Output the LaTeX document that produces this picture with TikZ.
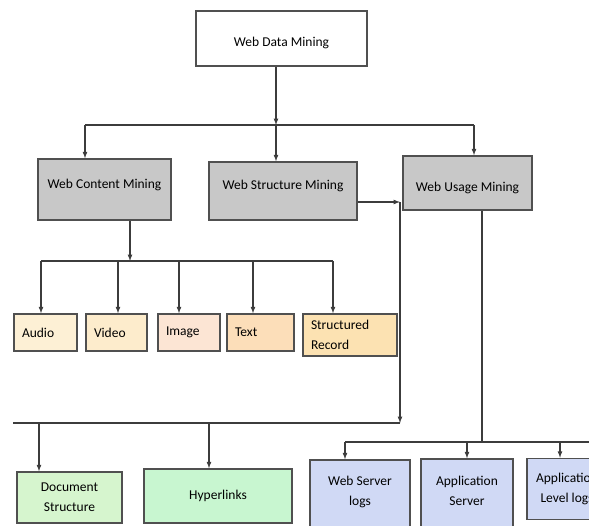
\documentclass[tikz,border=0pt]{standalone}
\usepackage{fontspec}
\setmainfont{Carlito}
\usetikzlibrary{arrows}

\definecolor{edgegray}{RGB}{80,80,80}
\definecolor{linegray}{RGB}{60,60,60}
\definecolor{boxgray}{RGB}{200,200,200}
\definecolor{cream}{RGB}{253,240,213}
\definecolor{creamtwo}{RGB}{253,236,204}
\definecolor{peach}{RGB}{252,229,212}
\definecolor{orangeone}{RGB}{252,222,185}
\definecolor{orangetwo}{RGB}{252,226,178}
\definecolor{greenone}{RGB}{214,245,206}
\definecolor{greentwo}{RGB}{200,246,208}
\definecolor{bluebox}{RGB}{208,217,245}

\tikzset{
 box/.style={draw=edgegray, line width=1.5pt, inner sep=0pt,
   font=\fontsize{13.5}{20}\selectfont},
 topbox/.style={box, fill=white},
 minebox/.style={box, fill=boxgray},
 leafbox/.style={box, align=left, inner xsep=8pt},
 lowbox/.style={box, align=center},
 link/.style={draw=linegray, line width=1.2pt, -latex},
 bar/.style={draw=linegray, line width=1.2pt}
}

\begin{document}
\begin{tikzpicture}[x=1pt,y=-1pt]
 \useasboundingbox (0,0) rectangle (589,525);
 \clip (0,0) rectangle (589,525);
 % main boxes
 \node[topbox, minimum width=171pt, minimum height=55pt, text height=18pt] (wdm) at (281.5,38.5) {Web Data Mining};
 \node[minebox, minimum width=133pt, minimum height=61pt, text depth=12pt] (wcm) at (104.5,189.5) {Web Content Mining};
 \node[minebox, minimum width=148pt, minimum height=58pt, text depth=12pt] (wsm) at (283,191) {Web Structure Mining};
 \node[minebox, minimum width=129pt, minimum height=54pt, text height=20pt] (wum) at (467.5,183) {Web Usage Mining};
 % content leaves
 \node[leafbox, fill=cream, text width=47pt, minimum height=37pt] (audio) at (45.5,332.5) {Audio};
 \node[leafbox, fill=creamtwo, text width=45pt, minimum height=37pt] (video) at (116.5,332.5) {Video};
 \node[leafbox, fill=peach, text width=46pt, minimum height=37pt] (image) at (189,332.5) {Image};
 \node[leafbox, fill=orangeone, text width=51pt, minimum height=37pt] (text) at (260.5,332.5) {Text};
 \node[leafbox, fill=orangetwo, text width=78pt, minimum height=42pt] (srec) at (350,335) {Structured\\Record};
 % structure leaves
 \node[lowbox, fill=greenone, minimum width=105pt, minimum height=51pt] (docs) at (69.5,497.5) {Document\\Structure};
 \node[lowbox, fill=greentwo, minimum width=148pt, minimum height=54pt] (hyper) at (218,496) {Hyperlinks};
 % usage leaves
 \node[lowbox, fill=bluebox, minimum width=100pt, minimum height=70pt, text depth=9pt] (wsl) at (360,495) {Web Server\\logs};
 \node[lowbox, fill=bluebox, minimum width=92pt, minimum height=72pt, text depth=9pt] (appsrv) at (467,495) {Application\\Server};
 \node[lowbox, fill=bluebox, minimum width=80pt, minimum height=61pt] (applvl) at (567,489) {Application\\Level logs};

 % top level split
 \coordinate (hub) at (276,125);
 \coordinate (hubl) at (85,125);
 \coordinate (hubr) at (474,125);
 \draw[link] (wdm.south -| hub) -- (hub);
 \draw[bar] (hubl) -- (hubr);
 \draw[link] (hubl) -- (hubl |- wcm.north);
 \draw[link] (hub) -- (hub |- wsm.north);
 \draw[link] (hubr) -- (hubr |- wum.north);

 % content mining
 \coordinate (cj) at (130,261);
 \coordinate (cl) at (41,261);
 \coordinate (cr) at (333,261);
 \draw[link] (wcm.south -| cj) -- (cj);
 \draw[bar] (cl) -- (cr);
 \foreach \n/\x in {audio/41, video/118, image/179, text/253, srec/333}
  \draw[link] (\x,261) -- (\x,261 |- \n.north);

 % structure mining
 \coordinate (sj) at (400,202);
 \coordinate (sb) at (400,423);
 \coordinate (sl) at (13,423);
 \draw[link] (wsm.east |- sj) -- (sj);
 \draw[link] (sj) -- (sb);
 \draw[bar] (sl) -- (sb);
 \foreach \n/\x in {docs/39, hyper/209}
  \draw[link] (\x,423) -- (\x,423 |- \n.north);

 % usage mining
 \coordinate (uj) at (482,442);
 \coordinate (ul) at (345,442);
 \coordinate (ur) at (589,442);
 \draw[bar] (wum.south -| uj) -- (uj);
 \draw[bar] (ul) -- (ur);
 \foreach \n/\x in {wsl/345, appsrv/467, applvl/560}
  \draw[link] (\x,442) -- (\x,442 |- \n.north);
\end{tikzpicture}
\end{document}
